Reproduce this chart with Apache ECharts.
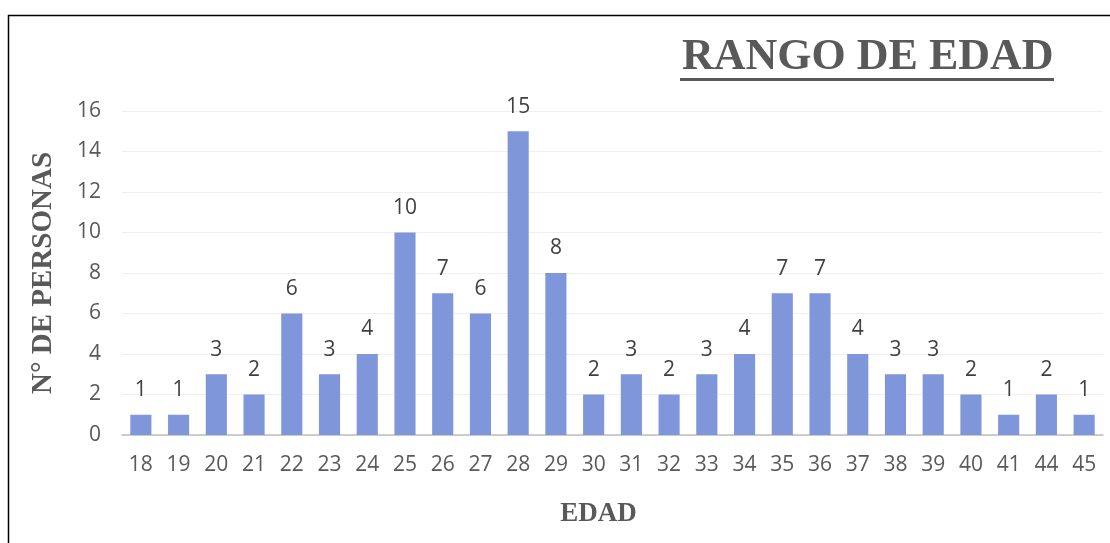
<!DOCTYPE html>
<html>
<head>
<meta charset="utf-8">
<script src="https://cdn.jsdelivr.net/npm/echarts@6/dist/echarts.min.js"></script>
<style>
  html, body { margin: 0; padding: 0; background: #fff; }
  #chart { width: 1110px; height: 543px; }
</style>
</head>
<body>
<div id="chart"></div>
<script>
const edades = ['18', '19', '20', '21', '22', '23', '24', '25', '26', '27', '28', '29', '30',
  '31', '32', '33', '34', '35', '36', '37', '38', '39', '40', '41', '44', '45']
const personas = [1, 1, 3, 2, 6, 3, 4, 10, 7, 6, 15, 8, 2, 3, 2, 3, 4, 7, 7, 4, 3, 3, 2, 1, 2, 1]

const chart = echarts.init(document.getElementById('chart'))

const serif = '"Liberation Serif", "Times New Roman", serif'
const sans = '"Open Sans", "Noto Sans", sans-serif'

const option = {
  animation: false,
  backgroundColor: '#fff',
  grid: { left: 122, right: 7, top: 111, bottom: 108 },
  graphic: [
    // marco del gráfico
    {
      type: 'polyline',
      shape: { points: [[8.5, 543], [8.5, 15.5], [1110, 15.5]] },
      style: { stroke: '#000', lineWidth: 1.5, fill: null },
      silent: true
    },
    {
      type: 'text',
      left: 682,
      top: 36,
      style: {
        text: 'RANGO DE EDAD',
        font: 'bold 44px ' + serif,
        fill: '#595959'
      }
    },
    // subrayado del título
    {
      type: 'rect',
      shape: { x: 680, y: 78, width: 374, height: 3 },
      style: { fill: '#595959' },
      silent: true
    }
  ],
  xAxis: {
    type: 'category',
    data: edades,
    name: 'EDAD',
    nameLocation: 'middle',
    nameGap: 66,
    nameTextStyle: {
      fontFamily: serif, fontWeight: 'bold', fontSize: 27, color: '#595959',
      padding: [0, 28, 0, 0]
    },
    axisLine: { lineStyle: { color: '#bfbfbf', width: 1.5 } },
    axisTick: { show: false },
    axisLabel: { color: '#595959', fontFamily: sans, fontSize: 21, margin: 20 }
  },
  yAxis: {
    type: 'value',
    min: 0,
    max: 16,
    interval: 2,
    name: 'N° DE PERSONAS',
    nameLocation: 'middle',
    nameGap: 64,
    nameTextStyle: { fontFamily: serif, fontWeight: 'bold', fontSize: 29, color: '#595959' },
    axisLine: { show: false },
    axisTick: { show: false },
    axisLabel: { color: '#595959', fontFamily: sans, fontSize: 21, margin: 21 },
    splitLine: { lineStyle: { color: '#efefef', width: 1 } }
  },
  series: [
    {
      type: 'bar',
      data: personas,
      barCategoryGap: '44%',
      itemStyle: { color: '#8096da' },
      label: {
        show: true,
        position: 'top',
        distance: 14,
        color: '#404040',
        fontFamily: sans,
        fontSize: 21
      }
    }
  ]
}

chart.setOption(option)
</script>
</body>
</html>
